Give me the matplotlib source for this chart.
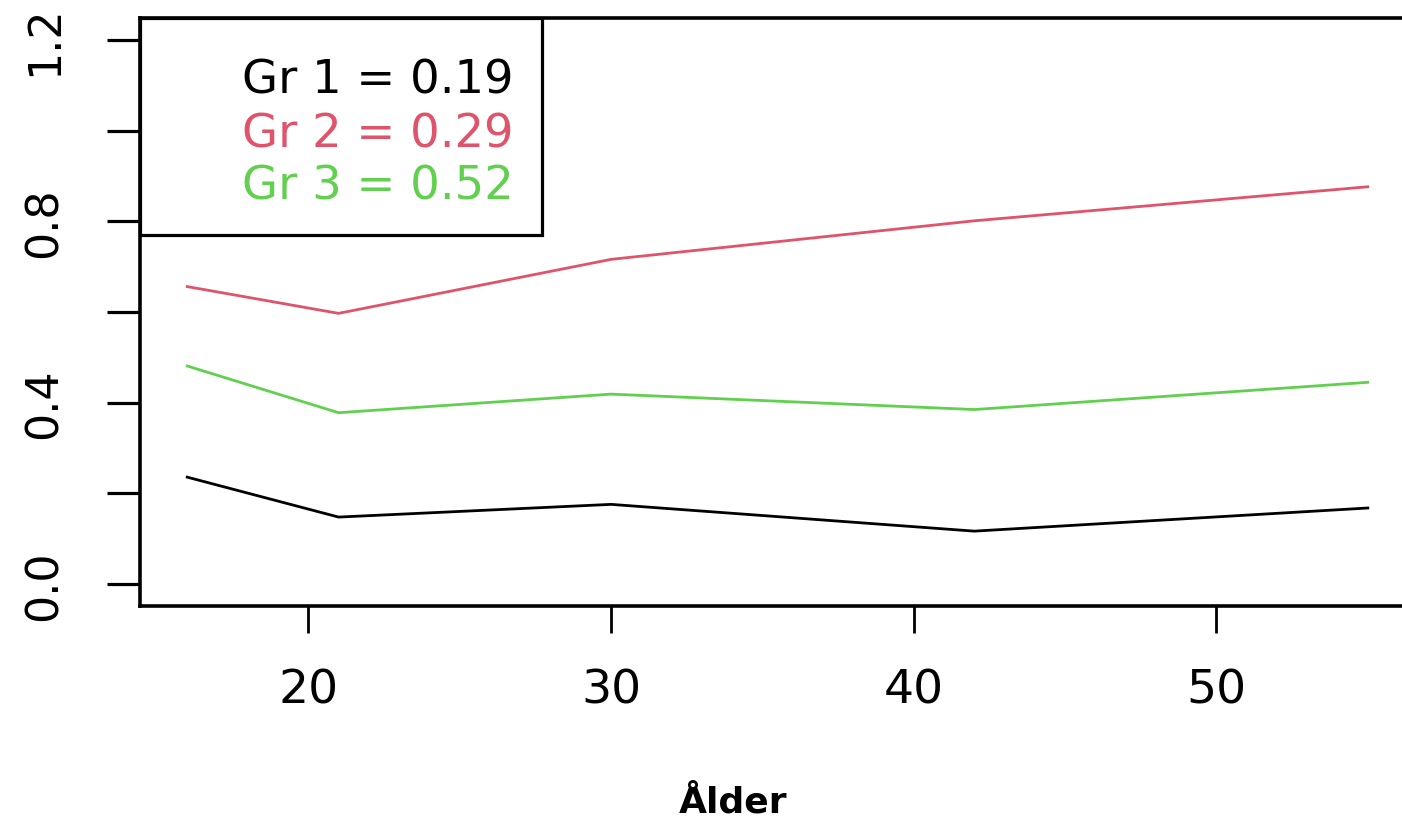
import matplotlib
matplotlib.use("Agg")
import matplotlib.pyplot as plt
from matplotlib.patches import Rectangle

# Age knots and fitted probabilities per group
ages = [16, 21, 30, 42, 55]
gr1 = [0.236, 0.148, 0.176, 0.117, 0.168]
gr2 = [0.656, 0.597, 0.716, 0.801, 0.876]
gr3 = [0.481, 0.378, 0.419, 0.385, 0.445]

series_colors = ["#000000", "#DF536B", "#61D04F"]
legend_labels = ["Gr 1 = 0.19", "Gr 2 = 0.29", "Gr 3 = 0.52"]

x_ticks = [20, 30, 40, 50]
y_ticks = [0.0, 0.2, 0.4, 0.6, 0.8, 1.0, 1.2]
y_ticklabels = ["0.0", "", "0.4", "", "0.8", "", "1.2"]

W, H = 1402, 820
fig = plt.figure(figsize=(W / 100, H / 100), dpi=100)

# plot region in pixels: left 140, right 1415, top 19, bottom 607
ax_l, ax_r, ax_t, ax_b = 140, 1415, 19, 607
ax = fig.add_axes([ax_l / W, 1 - ax_b / H, (ax_r - ax_l) / W, (ax_b - ax_t) / H])

for vals, col in zip([gr1, gr2, gr3], series_colors):
    ax.plot(ages, vals, color=col, linewidth=2.0, solid_joinstyle="miter")

# R-style 4% padding around the data range
ax.set_xlim(16 - 0.04 * 39, 55 + 0.04 * 39)
ax.set_ylim(-0.048, 1.248)

ax.set_xticks(x_ticks)
ax.set_xticklabels([str(t) for t in x_ticks])
ax.set_yticks(y_ticks)
ax.set_yticklabels(y_ticklabels)

for s in ax.spines.values():
    s.set_linewidth(2.6)

ax.tick_params(axis="x", direction="out", length=19.5, width=2.0,
               pad=25, labelsize=34)
ax.tick_params(axis="y", direction="out", length=23.5, width=2.3,
               pad=30, labelsize=32, labelrotation=90)
for lab in ax.get_yticklabels():
    lab.set_va("center")

ax.set_xlabel("Ålder", fontsize=26, fontweight="bold")
ax.xaxis.set_label_coords((733 - ax_l) / (ax_r - ax_l),
                          -(813 - ax_b) / (ax_b - ax_t))
ax.xaxis.label.set_va("baseline")

# legend box with coloured group shares
box_w = (542 - ax_l) / (ax_r - ax_l)
box_h = (236 - ax_t) / (ax_b - ax_t)
ax.add_patch(Rectangle((0, 1 - box_h), box_w, box_h, transform=ax.transAxes,
                       facecolor="white", edgecolor="black", linewidth=2.3,
                       zorder=5, clip_on=False))
for lbl, col, base in zip(legend_labels, series_colors, [93, 148, 200]):
    ax.text((242 - ax_l) / (ax_r - ax_l), 1 - (base - ax_t) / (ax_b - ax_t),
            lbl, color=col, fontsize=33.5, va="baseline", ha="left",
            transform=ax.transAxes, zorder=6)

fig.savefig("out.png", dpi=100)
